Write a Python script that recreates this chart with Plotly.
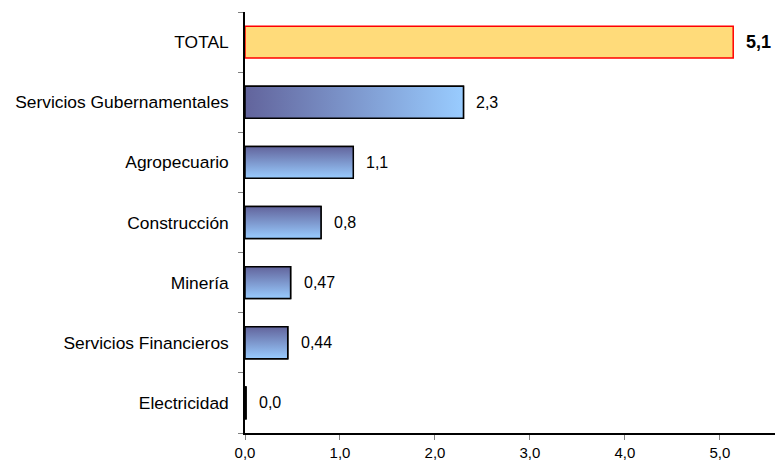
import plotly.graph_objects as go

# ---- data ----
categories = ["TOTAL", "Servicios Gubernamentales", "Agropecuario", "Construcción",
              "Minería", "Servicios Financieros", "Electricidad"]
values = [5.14, 2.30, 1.14, 0.80, 0.48, 0.45, 0.01]
value_labels = ["5,1", "2,3", "1,1", "0,8", "0,47", "0,44", "0,0"]
x_ticks = [0, 1, 2, 3, 4, 5]

# ---- styles ----
FONT = "Liberation Sans, Arial, sans-serif"
BAR_W = 0.53
HALF = BAR_W / 2
DARK = "#62649C"
LIGHT = "#99CCFF"
TOTAL_FILL = "#FFDB7A"

positions = list(range(len(categories)))

fill_colors = [TOTAL_FILL] + ["#8098D0"] * (len(categories) - 1)
line_colors = ["#FF0000"] + ["#000000"] * (len(categories) - 1)

fig = go.Figure()
fig.add_trace(go.Bar(
    x=values, y=positions, orientation="h", width=BAR_W,
    marker=dict(color=fill_colors, line=dict(color=line_colors, width=1.5)),
    hoverinfo="x+y",
))

# gradient faces on the blue bars, derived from the same values
for i in range(1, len(categories)):
    v = values[i]
    p = positions[i]
    if i == 1:
        grad = dict(type="horizontal", colorscale=[[0, DARK], [1, LIGHT]])
    else:
        grad = dict(type="vertical", colorscale=[[0, LIGHT], [1, DARK]])
    fig.add_trace(go.Scatter(
        x=[0, v, v, 0, 0],
        y=[p - HALF, p - HALF, p + HALF, p + HALF, p - HALF],
        mode="lines", fill="toself",
        fillgradient=grad,
        line=dict(color="#000000", width=1.5),
        hoverinfo="skip",
    ))

annotations = []
for i in range(len(categories)):
    annotations.append(dict(
        x=values[i], y=positions[i],
        text=(("<b>%s</b>" % value_labels[i]) if i == 0 else value_labels[i]),
        xanchor="left", yanchor="middle", xshift=11, showarrow=False,
        font=dict(family=FONT, size=18 if i == 0 else 16, color="#000000"),
    ))

fig.update_layout(
    width=778, height=464,
    margin=dict(l=245, r=3, t=12, b=26),
    plot_bgcolor="white", paper_bgcolor="white",
    showlegend=False,
    separators=",.",
    font=dict(family=FONT, size=16, color="#000000"),
    annotations=annotations,
    xaxis=dict(
        range=[0, 5.58], tickvals=x_ticks, tickformat=".1f",
        ticks="outside", ticklen=5, tickcolor="#808080", tickwidth=1,
        showline=True, linecolor="#000000", linewidth=1.5,
        showgrid=False, zeroline=False,
        tickfont=dict(family=FONT, size=15, color="#000000"),
    ),
    yaxis=dict(
        range=[6.5, -0.5], tickvals=positions, ticktext=categories,
        ticks="", showline=True, linecolor="#000000", linewidth=1.5,
        showgrid=False, zeroline=False,
        ticklabelstandoff=11,
        tickfont=dict(family=FONT, size=17.4, color="#000000"),
        minor=dict(tickvals=[p - 0.5 for p in positions] + [positions[-1] + 0.5],
                   ticks="outside", ticklen=5, tickcolor="#808080", tickwidth=1),
    ),
)

fig.write_html(
    "out.html",
    config={"displayModeBar": False},
    post_script="document.body.style.margin='0';document.body.style.overflow='hidden';",
)
